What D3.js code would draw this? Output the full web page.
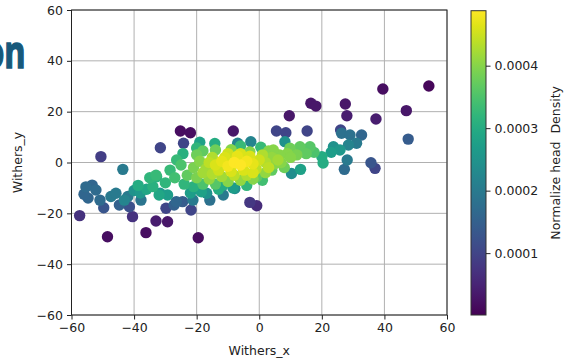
<!DOCTYPE html>
<html><head><meta charset="utf-8">
<script src="https://cdn.jsdelivr.net/npm/d3@7"></script>
<style>body{margin:0;background:#fff;}svg{display:block;}</style>
</head><body><svg id="c" width="564" height="363"></svg>
<script>
// Withers position data (x, y) and normalized head density
const withersX = [54.2,39.5,47,37.3,27.5,28,16.5,18.1,9.6,5.5,8.5,15.3,26,26.3,29,32.7,28.5,31.1,47.6,28.1,27.2,35.7,37,10.3,13.2,
 -50.6,-43.6,-31.6,-25.2,-22,-24.2,-8.3,-6.9,-2.7,8.2,-57.4,-48.5,-40.5,-36.2,-33,-29.3,-29.8,-49.7,-19.5,-21.8,-3,-0.8,
 -55.4,-52.2,-54.7,-50.9,-56,-53.4,-47.4,-45.8,-43.1,-44.7,-41.5,-42,-37.8,-27.2,-24.5,-15.8,-11.5,-7.8,
 23.7,25.8,20,20.4,23,
 -38.7,-36,-34,-32,-35,-33,-30,-29.3,-40,-38,
 -16,-14,-12,-10,-8,-6,-4,-2,0,2,-13,-9,-5,-1,-11,-7,-3,1,-15,-17,-19,4,5,-8,-12,-4,
 -18,-6,3,-10,-15,6,9,-2,
 -21,-20,-18,-14,-9,-3,3,6.5,7,4.5,9.8,13,16.2,12,15,10,17.5,8,-23,-20,-16,-10,-6,-2,2,-0.8,-14,-18,
 -26.4,-24.4,-28.5,-25,-27,-24,-21,-20,-14.2,-22,-18.5,-16.8,-13,-11.6,-8.4,-4,-21.2,-26.5,-31.7,-32.8,1,4,0.5,-6,-19];
const withersY = [30.1,28.9,20.4,17.1,23,18.4,23.3,22.2,18.4,12.4,11.7,12.4,12.8,11.5,10.8,10.8,6.9,7.6,9.2,1,-2.7,-0.1,-2.3,-4.3,-2.7,
 2.3,-2.7,5.8,12.4,11.7,7.6,12.4,7.6,8.2,8.2,-20.9,-29.2,-21.3,-27.6,-23,-23.3,-18,-17.8,-29.6,-18.7,-15.7,-17,
 -9.6,-10.8,-14,-14.8,-12.5,-8.9,-13.4,-12.1,-14.8,-16.7,-17.4,-13.4,-14.8,-16.7,-15.4,-14.8,-12.8,-10.2,
 6.2,4.9,2.3,-0.2,4,
 -9,-10.5,-9.5,-12.8,-6,-5,-8,-12.8,-11,-12,
 0,-1,0.5,-1.5,0,-1,0.5,-0.5,1,0,-3,-3.5,-3,-2.5,2,2.5,2.5,3,2,-2.5,0.5,2,-0.5,-5,-5.5,-5,
 -4,3.5,-2,3.5,-4.5,1,3.5,-4,
 -2,3,4.5,4.9,5,4.2,4.5,3,0,4.9,5.6,6.2,6.2,3,3.5,2,4,-2,-5,-6,-6.5,-7.5,-7,-6.5,-4,-5.6,-8.5,-8.5,
 1,3.5,-3,-1,-6,-8.5,-9.5,5.7,7.5,-12,-11.5,-12.1,-10.5,-8.9,-10,-9,-14.8,-15.4,-12.1,-5.6,-7,-3,6,6.5,8];
const density = [0.00001,0.00002,0.00003,0.00004,0.00003,0.00004,0.00003,0.00003,0.00003,0.0001,0.0001,0.0001,0.0001,0.00018,0.00018,0.00016,0.00022,0.0002,0.00014,0.0002,0.00017,0.00013,0.0001,0.00024,0.00028,
 0.00009,0.0002,0.0001,0.00002,0.00002,0.0001,0.00003,0.00022,0.00022,0.00025,0.00007,0.00002,0.00007,0.00002,0.00004,0.00003,0.0001,0.00013,0.00002,0.0001,0.00008,0.00006,
 0.00017,0.00017,0.00016,0.00017,0.00016,0.00016,0.0002,0.0002,0.00022,0.00015,0.00012,0.0002,0.00019,0.00015,0.00014,0.00018,0.0002,0.00024,
 0.00025,0.00026,0.0003,0.0003,0.00027,
 0.0003,0.00029,0.00031,0.00029,0.00032,0.00033,0.00032,0.00027,0.00025,0.00026,
 0.00044,0.00046,0.00047,0.00048,0.00049,0.00049,0.00048,0.00047,0.00045,0.00043,0.00045,0.00046,0.00046,0.00044,0.00046,0.00047,0.00046,0.00043,0.00043,0.00042,0.0004,0.00041,0.0004,0.00044,0.00042,0.00043,
 0.00042,0.00046,0.00044,0.00045,0.00043,0.00042,0.0004,0.00046,
 0.00039,0.00038,0.00037,0.00038,0.0004,0.0004,0.0004,0.0004,0.0004,0.0004,0.00038,0.00037,0.00036,0.00039,0.00037,0.0004,0.00035,0.00038,0.00037,0.00039,0.00041,0.0004,0.00041,0.0004,0.00041,0.00037,0.00036,0.00035,
 0.00033,0.00031,0.00033,0.00035,0.00034,0.00032,0.00031,0.00032,0.0003,0.00027,0.00028,0.00025,0.0003,0.0003,0.00027,0.00032,0.0002,0.00016,0.00026,0.00031,0.00034,0.00037,0.00033,0.00033,0.00028];
const axisTicks = [-60,-40,-20,0,20,40,60];
const colorbarTicks = [0.0001,0.0002,0.0003,0.0004];
const densityRange = [0.000001,0.000488];

const svg = d3.select("#c");
const font = "DejaVu Sans, sans-serif";
const x = d3.scaleLinear().domain([-60,60]).range([71.5,447]);
const y = d3.scaleLinear().domain([-60,60]).range([315,10]);
const color = d3.scaleSequential(d3.interpolateViridis).domain(densityRange);

// slide title fragment (cut at the left edge)
svg.append("text").attr("transform","translate(25.5,68) scale(0.72,1)").attr("text-anchor","end")
  .attr("font-family","Open Sans, sans-serif").attr("font-weight","bold").attr("font-size",45)
  .attr("fill","#17597b").attr("stroke","#17597b").attr("stroke-width",1.6).text("on");

// grid
const g = svg.append("g");
g.selectAll(".gx").data(axisTicks).join("line").attr("x1",d=>x(d)).attr("x2",d=>x(d))
  .attr("y1",y(60)).attr("y2",y(-60)).attr("stroke","#b0b0b0").attr("stroke-width",1);
g.selectAll(".gy").data(axisTicks).join("line").attr("y1",d=>y(d)).attr("y2",d=>y(d))
  .attr("x1",x(-60)).attr("x2",x(60)).attr("stroke","#b0b0b0").attr("stroke-width",1);

// points (densest drawn last)
const pts = withersX.map((v,i)=>({x:v,y:withersY[i],d:density[i]})).sort((a,b)=>a.d-b.d);
svg.append("g").selectAll("circle").data(pts).join("circle")
  .attr("cx",d=>x(d.x)).attr("cy",d=>y(d.y)).attr("r",5.7).attr("fill",d=>color(d.d));

// axes
const fmt = d=> d<0 ? "\u2212"+Math.abs(d) : String(d);
const xa = svg.append("g").attr("transform",`translate(0,${y(-60)})`)
  .call(d3.axisBottom(x).tickValues(axisTicks).tickFormat(fmt).tickSizeOuter(0).tickSize(4.5).tickPadding(4));
const ya = svg.append("g").attr("transform",`translate(${x(-60)},0)`)
  .call(d3.axisLeft(y).tickValues(axisTicks).tickFormat(fmt).tickSizeOuter(0).tickSize(4.5).tickPadding(4));
[xa,ya].forEach(a=>{a.select(".domain").remove();a.selectAll("text").attr("font-family",font).attr("font-size",12.5).attr("fill","#222");
  a.selectAll("line").attr("stroke","#222");});
svg.append("rect").attr("x",x(-60)).attr("y",y(60)).attr("width",x(60)-x(-60)).attr("height",y(-60)-y(60))
  .attr("fill","none").attr("stroke","#222").attr("stroke-width",1);

svg.append("text").attr("x",(x(-60)+x(60))/2).attr("y",355).attr("text-anchor","middle")
  .attr("font-family",font).attr("font-size",12.5).attr("fill","#222").text("Withers_x");
svg.append("text").attr("transform",`translate(22,${(y(60)+y(-60))/2}) rotate(-90)`).attr("text-anchor","middle")
  .attr("font-family",font).attr("font-size",12.5).attr("fill","#222").text("Withers_y");

// colorbar
const cbX = 471, cbW = 15;
const cy = d3.scaleLinear().domain(densityRange).range([315,10.7]);
const defs = svg.append("defs");
const grad = defs.append("linearGradient").attr("id","vg").attr("x1",0).attr("x2",0).attr("y1",1).attr("y2",0);
d3.range(0,1.0001,0.05).forEach(t=>grad.append("stop").attr("offset",t).attr("stop-color",d3.interpolateViridis(t)));
svg.append("rect").attr("x",cbX).attr("y",cy(densityRange[1])).attr("width",cbW).attr("height",cy(densityRange[0])-cy(densityRange[1]))
  .attr("fill","url(#vg)").attr("stroke","#333").attr("stroke-width",1);
const ca = svg.append("g").attr("transform",`translate(${cbX+cbW},0)`)
  .call(d3.axisRight(cy).tickValues(colorbarTicks).tickFormat(d3.format(".4f")).tickSize(4.5).tickPadding(4));
ca.select(".domain").remove();
ca.selectAll("text").attr("font-family",font).attr("font-size",12.5).attr("fill","#222");
ca.selectAll("line").attr("stroke","#222");
svg.append("text").attr("transform",`translate(560,${(cy(densityRange[0])+cy(densityRange[1]))/2}) rotate(-90)`)
  .attr("text-anchor","middle").attr("font-family",font).attr("font-size",12.5).attr("fill","#222")
  .attr("xml:space","preserve").style("white-space","pre").text("Normalize head  Density");
</script></body></html>
